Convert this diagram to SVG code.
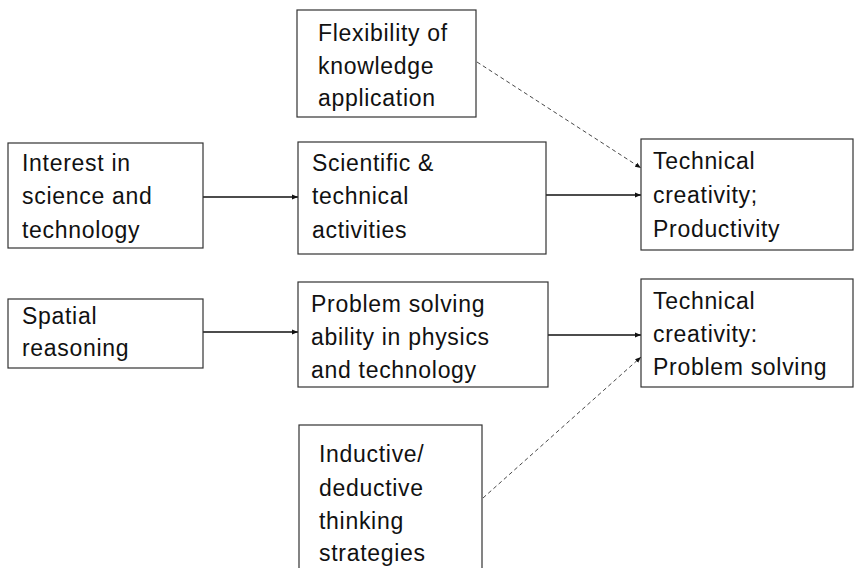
<svg xmlns="http://www.w3.org/2000/svg" width="856" height="568" viewBox="0 0 856 568">
<defs>
<style>
.box{fill:#fff;stroke:#333;stroke-width:1.2}
.t{font-family:"Liberation Sans",Arial,sans-serif;font-size:23px;fill:#111;letter-spacing:0.7px}
.solid{stroke:#111;stroke-width:1.6;fill:none}
.dash{stroke:#333;stroke-width:0.9;fill:none;stroke-dasharray:4 3}
</style>
<marker id="ah" viewBox="0 0 10 10" refX="10" refY="5" markerWidth="6" markerHeight="6" markerUnits="userSpaceOnUse" orient="auto">
<path d="M0,1 L10,5 L0,9 z" fill="#111"/>
</marker>
</defs>
<rect width="856" height="568" fill="#fff"/>
<g id="connectors">
<line class="solid" x1="203" y1="197" x2="298" y2="197" marker-end="url(#ah)"/>
<line class="solid" x1="546" y1="195" x2="641" y2="195" marker-end="url(#ah)"/>
<line class="solid" x1="203" y1="332" x2="298" y2="332" marker-end="url(#ah)"/>
<line class="solid" x1="548" y1="335" x2="641" y2="335" marker-end="url(#ah)"/>
<line class="dash" x1="477" y1="62" x2="641" y2="168" marker-end="url(#ah)"/>
<line class="dash" x1="483" y1="498" x2="641" y2="357" marker-end="url(#ah)"/>
</g>
<g id="flexibility">
<rect class="box" x="297" y="10" width="179" height="107"/>
<text class="t" x="318" y="41">Flexibility of</text>
<text class="t" x="318" y="74">knowledge</text>
<text class="t" x="318" y="106">application</text>
</g>
<g id="interest">
<rect class="box" x="8" y="143" width="195" height="105"/>
<text class="t" x="22" y="171">Interest in</text>
<text class="t" x="22" y="204">science and</text>
<text class="t" x="22" y="238">technology</text>
</g>
<g id="scientific">
<rect class="box" x="298" y="142" width="248" height="112"/>
<text class="t" x="312" y="171">Scientific &amp;</text>
<text class="t" x="312" y="204">technical</text>
<text class="t" x="312" y="238">activities</text>
</g>
<g id="productivity">
<rect class="box" x="641" y="139" width="212" height="111"/>
<text class="t" x="653" y="169">Technical</text>
<text class="t" x="653" y="203">creativity;</text>
<text class="t" x="653" y="237">Productivity</text>
</g>
<g id="spatial">
<rect class="box" x="8" y="299" width="195" height="69"/>
<text class="t" x="22" y="324">Spatial</text>
<text class="t" x="22" y="356">reasoning</text>
</g>
<g id="problem">
<rect class="box" x="298" y="282" width="250" height="105"/>
<text class="t" x="311" y="312">Problem solving</text>
<text class="t" x="311" y="345">ability in physics</text>
<text class="t" x="311" y="378">and technology</text>
</g>
<g id="problem-solving">
<rect class="box" x="641" y="279" width="212" height="108"/>
<text class="t" x="653" y="309">Technical</text>
<text class="t" x="653" y="342">creativity:</text>
<text class="t" x="653" y="375">Problem solving</text>
</g>
<g id="inductive">
<rect class="box" x="299" y="425" width="183" height="150"/>
<text class="t" x="319" y="462">Inductive/</text>
<text class="t" x="319" y="496">deductive</text>
<text class="t" x="319" y="529">thinking</text>
<text class="t" x="319" y="561">strategies</text>
</g>
</svg>
